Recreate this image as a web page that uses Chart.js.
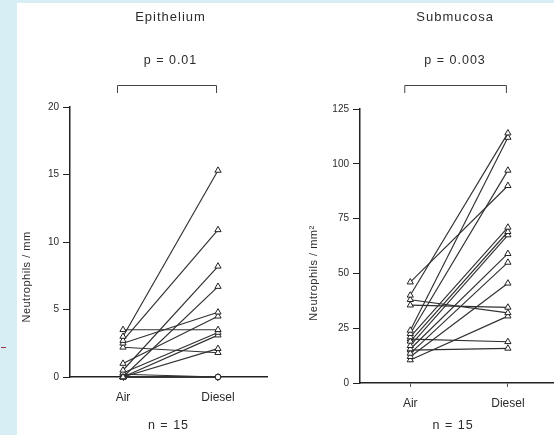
<!DOCTYPE html>
<html>
<head>
<meta charset="utf-8">
<script src="https://cdn.jsdelivr.net/npm/chart.js@4"></script>
<style>
  html, body { margin: 0; padding: 0; background: #fff; }
  body { width: 554px; height: 435px; position: relative; overflow: hidden; }
  .strip { position: absolute; background: #d7eef4; }
  .panel { position: absolute; top: 0; }
</style>
</head>
<body>
<div class="strip" style="left:0;top:0;width:17px;height:435px"></div>
<div class="strip" style="left:0;top:0;width:554px;height:3px"></div>
<div style="position:absolute;left:1px;top:347px;width:5px;height:1px;background:#a0323c"></div>
<div class="panel" style="left:17px;width:260px;height:435px"><canvas id="epi" width="260" height="435"></canvas></div>
<div class="panel" style="left:277px;width:285px;height:435px"><canvas id="sub" width="285" height="435"></canvas></div>

<script>
	var groupLabels = ['Air', 'Diesel'];

	// Epithelium, neutrophils / mm, one pair per subject
	var epiAir    = [3.0, 2.7, 0.5, 0.0, 2.5, 1.0, 3.5, 0.3, 0.0, 0.0, 2.2, 0.0, 0.0, 0.2, 0.0];
	var epiDiesel = [15.3, 10.9, 8.2, 6.7, 4.8, 4.5, 3.5, 3.3, 3.1, 2.1, 1.8, 0.0, 0.0, 0.0, 0.0];
	var epiTicks  = [0, 5, 10, 15, 20];

	// Submucosa, neutrophils / mm2
	var subAir    = [46, 40, 38, 35.5, 24, 22.5, 21, 19, 17, 15.5, 13.5, 12, 10.5, 20, 15];
	var subDiesel = [90, 114, 32, 34.5, 112, 97, 71, 69, 67.5, 59, 55, 45.5, 30.5, 18.8, 15.8];
	var subTicks  = [0, 25, 50, 75, 100, 125];

	var FONT = '"Liberation Sans", Arial, sans-serif';
	var INK = '#2b2b2b';

	function buildDatasets(air, diesel) {
		var sets = [];
		air.forEach(function(a, i) {
			sets.push({
				data : [ { x : 0, y : a }, { x : 1, y : diesel[i] } ],
				borderColor : '#303030',
				borderWidth : 1.15,
				pointStyle : function(ctx) {
					return (ctx.dataIndex === 1 && ctx.raw.y === 0) ? 'circle' : 'triangle';
				},
				pointRadius : function(ctx) {
					return (ctx.dataIndex === 1 && ctx.raw.y === 0) ? 2.8 : 3.6;
				},
				pointBackgroundColor : '#fff',
				pointBorderColor : '#222',
				pointBorderWidth : 1,
				clip : false,
			});
		});
		return sets;
	}

	// draws titles, p-value bracket, y title and n = 15
	var decor = {
		id : 'decor',
		afterDraw : function(chart, args, o) {
			var c = chart.ctx, xs = chart.scales.x;
			var xa = xs.getPixelForValue(0), xd = xs.getPixelForValue(1);
			var mid = (xa + xd) / 2 + o.shift;
			c.save();
			c.fillStyle = INK;
			c.textAlign = 'center';
			c.textBaseline = 'middle';
			c.letterSpacing = '1px';
			c.font = '13px ' + FONT;
			c.fillText(o.title, mid, 17);
			c.font = '12.5px ' + FONT;
			c.fillText(o.p, mid, 61);
			c.fillText('n = 15', mid - 2, 426);
			c.strokeStyle = '#444';
			c.lineWidth = 1;
			c.beginPath();
			c.moveTo(xa - 5.5, 93); c.lineTo(xa - 5.5, 85.5);
			c.lineTo(xd - 1.5, 85.5); c.lineTo(xd - 1.5, 93);
			c.stroke();
			c.translate(o.yx, o.yy);
			c.rotate(-Math.PI / 2);
			c.letterSpacing = '0.5px';
			c.font = '11px ' + FONT;
			c.fillText(o.ytitle, 0, 0);
			c.restore();
		}
	};

	function buildChart(id, air, diesel, ticks, xmin, xmax, left, top, bottom, right, opts) {
		var ymax = ticks[ticks.length - 1];
		var config = {
			type : 'line',
			data : { datasets : buildDatasets(air, diesel) },
			options : {
				responsive : false,
				animation : false,
				events : [],
				layout : { padding : { left : 0, right : right, top : top, bottom : bottom } },
				plugins : { legend : { display : false }, tooltip : { enabled : false }, decor : opts },
				scales : {
					x : {
						type : 'linear',
						min : xmin,
						max : xmax,
						afterBuildTicks : function(s) { s.ticks = [ { value : 0 }, { value : 1 } ]; },
						afterFit : function(s) { s.height = 30; s.paddingLeft = 0; s.paddingRight = 0; },
						ticks : {
							callback : function(v) { return groupLabels[v]; },
							color : INK,
							font : { family : FONT, size : 12 },
							padding : 9,
							maxRotation : 0,
						},
						grid : { drawOnChartArea : false, drawTicks : true, tickLength : 4, color : '#555' },
						border : { display : true, color : '#222', width : 1.5 },
					},
					y : {
						min : 0,
						max : ymax,
						afterBuildTicks : function(s) { s.ticks = ticks.map(function(v) { return { value : v }; }); },
						afterFit : function(s) { s.width = left; },
						ticks : {
							color : INK,
							font : { family : FONT, size : 10 },
							padding : 4,
						},
						grid : { drawOnChartArea : false, drawTicks : true, tickLength : 7, color : '#222' },
						border : { display : true, color : '#222', width : 1.5 },
					},
				},
			},
			plugins : [ decor ],
		};
		return new Chart(document.getElementById(id), config);
	}

	// left plot: axis 70..267 px, Air at 123, Diesel at 218
	buildChart('epi', epiAir, epiDiesel, epiTicks, -0.558, 1.516, 53, 107, 435 - 377 - 30, 10,
		{ title : 'Epithelium', p : 'p = 0.01', ytitle : 'Neutrophils / mm', yx : 10, yy : 277, shift : 0 });
	// right plot: axis from 360 px, Air at 410, Diesel at 507
	buildChart('sub', subAir, subDiesel, subTicks, -0.515, 1.503, 83, 109, 435 - 383 - 30, 0,
		{ title : 'Submucosa', p : 'p = 0.003', ytitle : 'Neutrophils / mm\u00b2', yx : 37, yy : 273, shift : -4 });
</script>
</body>
</html>
